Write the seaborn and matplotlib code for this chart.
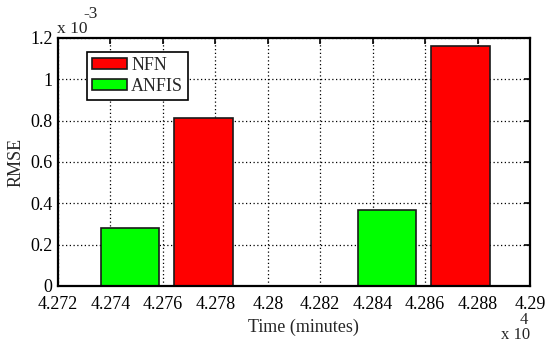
import pandas as pd
import matplotlib
matplotlib.use("Agg")
import matplotlib.pyplot as plt
import matplotlib.transforms as mtransforms
import seaborn as sns
from matplotlib.patches import Patch
from matplotlib.ticker import MultipleLocator, FuncFormatter

# data
time_minutes = [42761.5, 42859.5]
anfis_rmse = [0.282e-3, 0.368e-3]
nfn_rmse = [0.815e-3, 1.163e-3]
models = ["ANFIS", "NFN"]
legend_order = ["NFN", "ANFIS"]

df = pd.DataFrame({
    "time": time_minutes + time_minutes,
    "rmse": anfis_rmse + nfn_rmse,
    "model": ["ANFIS"] * len(anfis_rmse) + ["NFN"] * len(nfn_rmse),
})

sns.set_style("white")
plt.rcParams["font.family"] = ["Liberation Serif", "DejaVu Serif"]
plt.rcParams["font.size"] = 13

colors = {"NFN": "#ff0000", "ANFIS": "#00ff00"}

fig = plt.figure(figsize=(5.49, 3.42), dpi=100)
ax = fig.add_axes([58 / 549, 1 - 286 / 342, 472 / 549, 248 / 342])

sns.barplot(data=df, x="time", y="rmse", hue="model", hue_order=models,
            palette=colors, native_scale=True, dodge=True, width=0.5714, gap=0.2,
            errorbar=None, saturation=1, edgecolor="#1a1a1a", linewidth=1.2,
            legend=False, ax=ax)

ax.set_xlim(42720, 42900)
ax.set_ylim(0, 1.2e-3)
ax.xaxis.set_major_locator(MultipleLocator(20))
ax.yaxis.set_major_locator(MultipleLocator(0.2e-3))
ax.xaxis.set_major_formatter(FuncFormatter(lambda v, p: "%g" % round(v / 1e4, 4)))
ax.yaxis.set_major_formatter(FuncFormatter(lambda v, p: "%g" % round(v * 1e3, 4)))

ax.set_axisbelow(True)
ax.grid(True, color="black", linestyle=(0, (1, 2)), linewidth=0.9)
ax.tick_params(direction="in", top=True, right=True, length=4, width=1.2,
               labelsize=13, colors="black")
ax.tick_params(axis="x", pad=7)
ax.tick_params(axis="y", pad=4)
for s in ax.spines.values():
    s.set_visible(True)
    s.set_color("black")
    s.set_linewidth(1.6)

# nudge the "0" label up a touch so it does not sit on "4.272"
fig.canvas.draw()
zero_lbl = ax.get_yticklabels()[0]
zero_lbl.set_transform(zero_lbl.get_transform() +
                       mtransforms.ScaledTranslation(0, 3 / 72, fig.dpi_scale_trans))

ax.set_xlabel("Time (minutes)", fontsize=13)
ax.xaxis.set_label_coords(0.52, -0.13, transform=ax.transAxes)
ax.xaxis.label.set_verticalalignment("top")
ax.set_ylabel("RMSE", fontsize=13, labelpad=4)

handles = [Patch(facecolor=colors[m], edgecolor="#1a1a1a", linewidth=1.2, label=m)
           for m in legend_order]
leg = ax.legend(handles=handles, loc="upper left", bbox_to_anchor=(0.061, 0.945),
                borderaxespad=0, fancybox=False, framealpha=1, edgecolor="black",
                fontsize=13, handlelength=1.95, handleheight=0.6,
                handletextpad=0.2, labelspacing=0.2, borderpad=0.3)
leg.get_frame().set_linewidth(1.2)

# MATLAB-style exponent labels
fig.text(57 / 549, 1 - 33 / 342, "x 10", fontsize=12.5, va="baseline", ha="left")
fig.text(83 / 549, 1 - 18 / 342, "-3", fontsize=12.5, va="baseline", ha="left")
fig.text(524 / 549, 1 - 324 / 342, "4", fontsize=12, va="baseline", ha="center")
fig.text(501 / 549, 1 - 339 / 342, "x 10", fontsize=12, va="baseline", ha="left")

fig.savefig("out.png", dpi=100)
